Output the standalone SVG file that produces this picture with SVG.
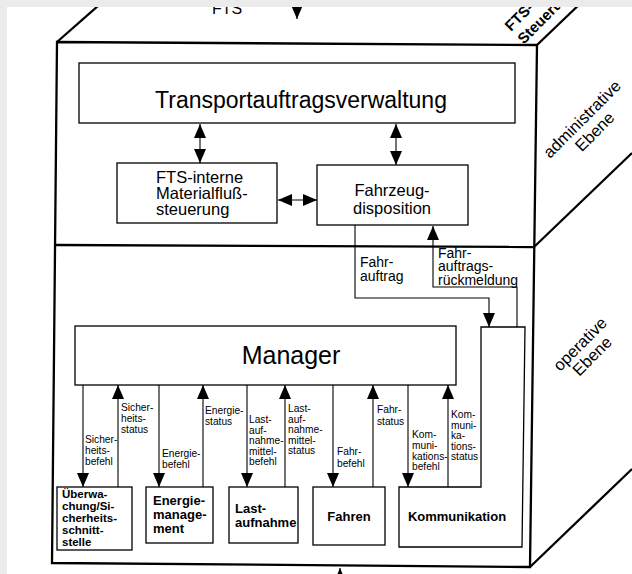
<svg xmlns="http://www.w3.org/2000/svg" width="632" height="574" viewBox="0 0 632 574">
<defs>
<style>
text{font-family:"Liberation Sans",Arial,sans-serif;fill:#000}
.edge{stroke:#000;stroke-width:2.3;fill:none;stroke-linejoin:miter}
.box{fill:#fff;stroke:#000;stroke-width:1.3}
.ln{stroke:#000;stroke-width:1.1;fill:none}
.arr{marker-end:url(#ah)}
.darr{marker-start:url(#ah);marker-end:url(#ah)}
.big{font-size:23px}
.mid{font-size:16.5px}
.lab{font-size:14px}
.sm{font-size:10.2px}
.bold{font-weight:bold;font-size:13px}
.side{font-size:16.5px}
.corner{font-size:15px;font-weight:bold}
</style>
<marker id="ah" viewBox="0 0 14 12" refX="14" refY="6" markerWidth="14" markerHeight="12" markerUnits="userSpaceOnUse" orient="auto-start-reverse">
<path d="M0,0 L14,6 L0,12 z" fill="#000"/>
</marker>
</defs>
<rect x="0" y="0" width="632" height="574" fill="#fff"/>

<g id="cube">
<polygon class="edge" points="57,42 537,45 530,567 52,563"/>
<line class="edge" x1="56" y1="245" x2="534" y2="247"/>
<line class="edge" x1="57" y1="42" x2="107" y2="-2"/>
<line class="edge" x1="537" y1="45" x2="584" y2="0"/>
<line class="edge" x1="534" y1="247" x2="632" y2="153"/>
<line class="edge" x1="530" y1="567" x2="632" y2="469"/>
<text x="212" y="14" style="font-size:16px">FTS</text>
<g transform="translate(511,32) rotate(-45)"><text class="corner" x="0" y="0">FTS-</text><text class="corner" x="0" y="18">Steuerung</text></g>
<g transform="translate(586,123) rotate(-45)"><text class="side" x="0" y="0" text-anchor="middle">administrative</text><text class="side" x="0" y="18" text-anchor="middle">Ebene</text></g>
<g transform="translate(584,348) rotate(-45)"><text class="side" x="0" y="0" text-anchor="middle">operative</text><text class="side" x="0" y="17" text-anchor="middle">Ebene</text></g>
</g>

<g id="transportauftragsverwaltung">
<rect class="box" x="79" y="63" width="436" height="60"/>
<text class="big" x="301" y="108" text-anchor="middle">Transportauftragsverwaltung</text>
</g>

<g id="materialfluss">
<rect class="box" x="117" y="163" width="160" height="60"/>
<text class="mid" x="156" y="183">FTS-interne</text>
<text class="mid" x="156" y="199">Materialfluß-</text>
<text class="mid" x="156" y="215">steuerung</text>
</g>

<g id="fahrzeugdisposition">
<rect class="box" x="317" y="165" width="151" height="60"/>
<text class="mid" x="392" y="196" text-anchor="middle">Fahrzeug-</text>
<text class="mid" x="392" y="214" text-anchor="middle">disposition</text>
</g>

<g id="manager">
<rect class="box" x="75" y="326" width="381" height="59"/>
<text x="291" y="364" text-anchor="middle" style="font-size:25px">Manager</text>
</g>

<g id="ueberwachung">
<rect class="box" x="57" y="487" width="75" height="63"/>
<text style="font-weight:bold;font-size:11.5px"><tspan x="62" y="498">Überwa-</tspan><tspan x="62" y="510">chung/Si-</tspan><tspan x="62" y="522">cherheits-</tspan><tspan x="62" y="534">schnitt-</tspan><tspan x="62" y="546">stelle</tspan></text>
</g>

<g id="energiemanagement">
<rect class="box" x="146" y="487" width="67" height="56"/>
<text class="bold"><tspan x="153" y="505">Energie-</tspan><tspan x="153" y="519">manage-</tspan><tspan x="153" y="533">ment</tspan></text>
</g>

<g id="lastaufnahme">
<rect class="box" x="229" y="487" width="69" height="56"/>
<text class="bold"><tspan x="235" y="513">Last-</tspan><tspan x="235" y="527">aufnahme</tspan></text>
</g>

<g id="fahren">
<rect class="box" x="313" y="487" width="72" height="58"/>
<text class="bold" x="349" y="521" text-anchor="middle">Fahren</text>
</g>

<g id="kommunikation">
<polygon class="box" points="399,487 481,487 481,327 525,327 522,547 399,547"/>
<text class="bold" x="457" y="521" text-anchor="middle">Kommunikation</text>
</g>

<g id="connectors">
<line class="ln arr" x1="297" y1="-5" x2="297" y2="19"/>
<line class="ln arr" x1="340" y1="590" x2="340" y2="568"/>
<line class="ln darr" x1="200" y1="124" x2="200" y2="163"/>
<line class="ln darr" x1="396" y1="124" x2="396" y2="165"/>
<line class="ln darr" x1="278" y1="200" x2="317" y2="200"/>
<polyline class="ln arr" points="355,225 355,298 489,298 489,327"/>
<polyline class="ln arr" points="517,327 517,287 433,287 433,226"/>
<text class="lab"><tspan x="360" y="267">Fahr-</tspan><tspan x="360" y="281">auftrag</tspan></text>
<text class="lab"><tspan x="438" y="257.5">Fahr-</tspan><tspan x="438" y="271">auftrags-</tspan><tspan x="438" y="285">rückmeldung</tspan></text>

<line class="ln arr" x1="83" y1="385" x2="83" y2="487"/>
<line class="ln arr" x1="118" y1="487" x2="118" y2="385"/>
<line class="ln arr" x1="159" y1="385" x2="159" y2="487"/>
<line class="ln arr" x1="203" y1="487" x2="203" y2="385"/>
<line class="ln arr" x1="247" y1="385" x2="247" y2="487"/>
<line class="ln arr" x1="285" y1="487" x2="285" y2="385"/>
<line class="ln arr" x1="333" y1="385" x2="333" y2="487"/>
<line class="ln arr" x1="373" y1="487" x2="373" y2="385"/>
<line class="ln arr" x1="408" y1="385" x2="408" y2="487"/>
<line class="ln arr" x1="448" y1="487" x2="448" y2="385"/>

<text class="sm"><tspan x="85" y="443">Sicher-</tspan><tspan x="85" y="454">heits-</tspan><tspan x="85" y="465">befehl</tspan></text>
<text class="sm"><tspan x="121" y="411">Sicher-</tspan><tspan x="121" y="422">heits-</tspan><tspan x="121" y="433">status</tspan></text>
<text class="sm"><tspan x="162" y="457">Energie-</tspan><tspan x="162" y="468">befehl</tspan></text>
<text class="sm"><tspan x="205" y="414">Energie-</tspan><tspan x="205" y="425">status</tspan></text>
<text class="sm"><tspan x="249" y="423">Last-</tspan><tspan x="249" y="433.5">auf-</tspan><tspan x="249" y="444">nahme-</tspan><tspan x="249" y="454.5">mittel-</tspan><tspan x="249" y="465">befehl</tspan></text>
<text class="sm"><tspan x="288" y="412">Last-</tspan><tspan x="288" y="422.5">auf-</tspan><tspan x="288" y="433">nahme-</tspan><tspan x="288" y="443.5">mittel-</tspan><tspan x="288" y="454">status</tspan></text>
<text class="sm"><tspan x="337" y="455">Fahr-</tspan><tspan x="337" y="467">befehl</tspan></text>
<text class="sm"><tspan x="377" y="413">Fahr-</tspan><tspan x="377" y="425">status</tspan></text>
<text class="sm"><tspan x="412" y="438">Kom-</tspan><tspan x="412" y="449">muni-</tspan><tspan x="412" y="460">kations-</tspan><tspan x="412" y="470">befehl</tspan></text>
<text class="sm"><tspan x="451" y="418">Kom-</tspan><tspan x="451" y="428.5">muni-</tspan><tspan x="451" y="439">ka-</tspan><tspan x="451" y="449.5">tions-</tspan><tspan x="451" y="460">status</tspan></text>
</g>

<rect x="0" y="0" width="632" height="7" fill="#ebebeb"/>
<rect x="0" y="0" width="7" height="574" fill="#ebebeb"/>
</svg>
